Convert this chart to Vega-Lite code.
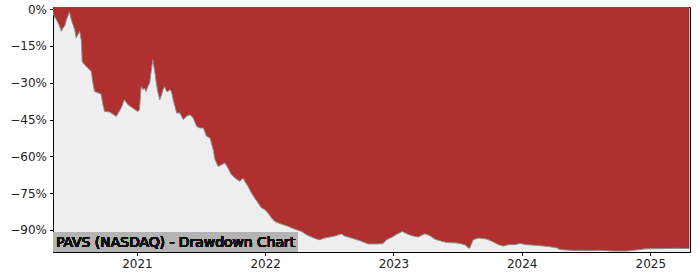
{
  "$schema": "https://vega.github.io/schema/vega-lite/v6.json",
  "width": 637,
  "height": 245,
  "autosize": {"type": "none"},
  "padding": {"left": 53, "top": 7, "right": 10, "bottom": 28},
  "background": "white",
  "config": {
    "view": {"fill": "#eeeeee", "stroke": "black", "strokeWidth": 1},
    "font": "DejaVu Sans",
    "axis": {
      "labelFont": "DejaVu Sans",
      "labelFontSize": 12,
      "labelColor": "#222222",
      "domainColor": "black",
      "tickColor": "black",
      "tickSize": 3.5,
      "grid": false,
      "title": null
    }
  },
  "data": {
    "values": [
      {"date": "2020-05-07", "dd": -1.0},
      {"date": "2020-05-09", "dd": -2.5},
      {"date": "2020-05-17", "dd": -4.3},
      {"date": "2020-05-24", "dd": -6.3},
      {"date": "2020-05-31", "dd": -9.0},
      {"date": "2020-06-04", "dd": -7.7},
      {"date": "2020-06-09", "dd": -7.0},
      {"date": "2020-06-14", "dd": -4.3},
      {"date": "2020-06-18", "dd": -2.9},
      {"date": "2020-06-23", "dd": -1.1},
      {"date": "2020-06-28", "dd": -4.3},
      {"date": "2020-07-03", "dd": -6.3},
      {"date": "2020-07-08", "dd": -8.4},
      {"date": "2020-07-12", "dd": -11.7},
      {"date": "2020-07-17", "dd": -10.4},
      {"date": "2020-07-22", "dd": -9.0},
      {"date": "2020-07-27", "dd": -13.1},
      {"date": "2020-07-29", "dd": -21.3},
      {"date": "2020-08-05", "dd": -22.6},
      {"date": "2020-08-14", "dd": -24.0},
      {"date": "2020-08-24", "dd": -25.4},
      {"date": "2020-08-28", "dd": -29.4},
      {"date": "2020-09-02", "dd": -33.5},
      {"date": "2020-09-21", "dd": -34.6},
      {"date": "2020-09-26", "dd": -38.9},
      {"date": "2020-10-01", "dd": -41.7},
      {"date": "2020-10-15", "dd": -41.9},
      {"date": "2020-11-03", "dd": -43.7},
      {"date": "2020-11-17", "dd": -40.3},
      {"date": "2020-11-26", "dd": -36.9},
      {"date": "2020-12-06", "dd": -38.9},
      {"date": "2020-12-20", "dd": -40.3},
      {"date": "2021-01-03", "dd": -41.7},
      {"date": "2021-01-08", "dd": -41.0},
      {"date": "2021-01-13", "dd": -31.5},
      {"date": "2021-01-18", "dd": -32.8},
      {"date": "2021-01-22", "dd": -32.1},
      {"date": "2021-01-27", "dd": -33.5},
      {"date": "2021-02-01", "dd": -31.5},
      {"date": "2021-02-06", "dd": -30.1},
      {"date": "2021-02-11", "dd": -24.7},
      {"date": "2021-02-15", "dd": -20.6},
      {"date": "2021-02-20", "dd": -24.7},
      {"date": "2021-02-25", "dd": -30.1},
      {"date": "2021-03-02", "dd": -34.2},
      {"date": "2021-03-07", "dd": -36.9},
      {"date": "2021-03-12", "dd": -34.9},
      {"date": "2021-03-16", "dd": -32.8},
      {"date": "2021-03-21", "dd": -31.5},
      {"date": "2021-03-26", "dd": -33.5},
      {"date": "2021-03-31", "dd": -33.5},
      {"date": "2021-04-04", "dd": -32.8},
      {"date": "2021-04-09", "dd": -33.5},
      {"date": "2021-04-14", "dd": -36.9},
      {"date": "2021-04-19", "dd": -39.6},
      {"date": "2021-04-24", "dd": -42.3},
      {"date": "2021-05-03", "dd": -42.3},
      {"date": "2021-05-13", "dd": -45.0},
      {"date": "2021-05-22", "dd": -43.6},
      {"date": "2021-06-01", "dd": -43.0},
      {"date": "2021-06-10", "dd": -44.3},
      {"date": "2021-06-20", "dd": -47.8},
      {"date": "2021-06-29", "dd": -48.4},
      {"date": "2021-07-09", "dd": -48.4},
      {"date": "2021-07-18", "dd": -51.8},
      {"date": "2021-07-28", "dd": -52.5},
      {"date": "2021-08-06", "dd": -57.3},
      {"date": "2021-08-11", "dd": -61.3},
      {"date": "2021-08-20", "dd": -64.1},
      {"date": "2021-08-30", "dd": -63.4},
      {"date": "2021-09-08", "dd": -62.7},
      {"date": "2021-09-17", "dd": -64.7},
      {"date": "2021-09-27", "dd": -67.5},
      {"date": "2021-10-07", "dd": -68.8},
      {"date": "2021-10-21", "dd": -70.2},
      {"date": "2021-10-30", "dd": -68.8},
      {"date": "2021-11-04", "dd": -70.2},
      {"date": "2021-11-13", "dd": -72.2},
      {"date": "2021-11-23", "dd": -74.9},
      {"date": "2021-12-02", "dd": -77.0},
      {"date": "2021-12-12", "dd": -79.0},
      {"date": "2021-12-21", "dd": -81.0},
      {"date": "2021-12-31", "dd": -81.7},
      {"date": "2022-01-09", "dd": -83.1},
      {"date": "2022-01-19", "dd": -85.1},
      {"date": "2022-01-28", "dd": -86.5},
      {"date": "2022-02-06", "dd": -87.1},
      {"date": "2022-02-20", "dd": -87.8},
      {"date": "2022-03-07", "dd": -88.5},
      {"date": "2022-03-17", "dd": -89.2},
      {"date": "2022-03-31", "dd": -89.9},
      {"date": "2022-04-14", "dd": -90.6},
      {"date": "2022-04-28", "dd": -91.9},
      {"date": "2022-05-13", "dd": -92.9},
      {"date": "2022-05-27", "dd": -93.7},
      {"date": "2022-06-05", "dd": -94.0},
      {"date": "2022-06-19", "dd": -93.3},
      {"date": "2022-07-04", "dd": -92.9},
      {"date": "2022-07-18", "dd": -92.5},
      {"date": "2022-08-06", "dd": -91.6},
      {"date": "2022-08-15", "dd": -92.5},
      {"date": "2022-09-08", "dd": -93.5},
      {"date": "2022-10-02", "dd": -94.6},
      {"date": "2022-10-21", "dd": -95.7},
      {"date": "2022-11-18", "dd": -95.7},
      {"date": "2022-12-02", "dd": -95.6},
      {"date": "2022-12-12", "dd": -94.0},
      {"date": "2022-12-26", "dd": -93.1},
      {"date": "2023-01-09", "dd": -91.9},
      {"date": "2023-01-26", "dd": -90.6},
      {"date": "2023-02-07", "dd": -91.5},
      {"date": "2023-02-21", "dd": -92.3},
      {"date": "2023-03-12", "dd": -92.9},
      {"date": "2023-03-31", "dd": -91.6},
      {"date": "2023-04-14", "dd": -92.3},
      {"date": "2023-04-28", "dd": -93.7},
      {"date": "2023-05-13", "dd": -94.4},
      {"date": "2023-06-01", "dd": -95.1},
      {"date": "2023-06-30", "dd": -95.3},
      {"date": "2023-07-23", "dd": -96.0},
      {"date": "2023-08-02", "dd": -97.3},
      {"date": "2023-08-06", "dd": -97.4},
      {"date": "2023-08-16", "dd": -94.0},
      {"date": "2023-08-30", "dd": -93.3},
      {"date": "2023-09-23", "dd": -93.7},
      {"date": "2023-10-08", "dd": -94.6},
      {"date": "2023-10-27", "dd": -96.0},
      {"date": "2023-11-10", "dd": -96.6},
      {"date": "2023-11-24", "dd": -96.0},
      {"date": "2023-12-13", "dd": -96.0},
      {"date": "2023-12-27", "dd": -95.5},
      {"date": "2024-01-15", "dd": -96.0},
      {"date": "2024-02-13", "dd": -96.3},
      {"date": "2024-03-13", "dd": -96.7},
      {"date": "2024-04-10", "dd": -97.3},
      {"date": "2024-04-19", "dd": -98.0},
      {"date": "2024-05-18", "dd": -98.3},
      {"date": "2024-07-04", "dd": -98.4},
      {"date": "2024-08-11", "dd": -98.3},
      {"date": "2024-09-18", "dd": -98.6},
      {"date": "2024-10-26", "dd": -98.6},
      {"date": "2024-12-03", "dd": -98.0},
      {"date": "2024-12-17", "dd": -97.7},
      {"date": "2025-01-29", "dd": -97.6},
      {"date": "2025-03-18", "dd": -97.5},
      {"date": "2025-04-22", "dd": -97.6}
    ]
  },
  "encoding": {
    "x": {
      "field": "date",
      "type": "temporal",
      "scale": {
        "type": "utc",
        "domain": [
          {"year": 2020, "month": 5, "date": 7, "utc": true},
          {"year": 2025, "month": 4, "date": 24, "utc": true}
        ]
      },
      "axis": {
        "format": "%Y",
        "formatType": "utc",
        "values": [
          {"year": 2021, "month": 1, "date": 1, "utc": true},
          {"year": 2022, "month": 1, "date": 1, "utc": true},
          {"year": 2023, "month": 1, "date": 1, "utc": true},
          {"year": 2024, "month": 1, "date": 1, "utc": true},
          {"year": 2025, "month": 1, "date": 1, "utc": true}
        ],
        "labelPadding": 3
      }
    },
    "y": {
      "field": "dd",
      "type": "quantitative",
      "scale": {"domain": [-99, 0.9], "nice": false, "zero": false},
      "axis": {
        "values": [0, -15, -30, -45, -60, -75, -90],
        "labelExpr": "datum.value == 0 ? '0%' : '\u2212' + abs(datum.value) + '%'",
        "labelPadding": 3
      }
    }
  },
  "layer": [
    {
      "mark": {"type": "area", "color": "#b03030", "interpolate": "linear"},
      "encoding": {"y2": {"datum": 0.9}}
    },
    {
      "mark": {"type": "line", "color": "#8c8c8c", "strokeWidth": 1, "clip": true}
    },
    {
      "mark": {"type": "rect", "color": "#b4b4b4"},
      "encoding": {
        "x": {"datum": {"year": 2020, "month": 5, "date": 7, "utc": true}, "type": "temporal"},
        "x2": {"datum": {"year": 2022, "month": 4, "date": 2, "utc": true}},
        "y": {"datum": -91.0, "type": "quantitative"},
        "y2": {"datum": -99}
      }
    },
    {
      "mark": {"type": "text", "align": "left", "baseline": "alphabetic", "dx": 3, "fontSize": 13.9, "font": "DejaVu Sans", "fill": "#111111", "strokeWidth": 0, "fontWeight": "normal"},
      "encoding": {
        "x": {"datum": {"year": 2020, "month": 5, "date": 7, "utc": true}, "type": "temporal"},
        "y": {"datum": -96.9, "type": "quantitative"},
        "text": {"value": "PAVS (NASDAQ) - Drawdown Chart"}
      }
    }
  ]
}
